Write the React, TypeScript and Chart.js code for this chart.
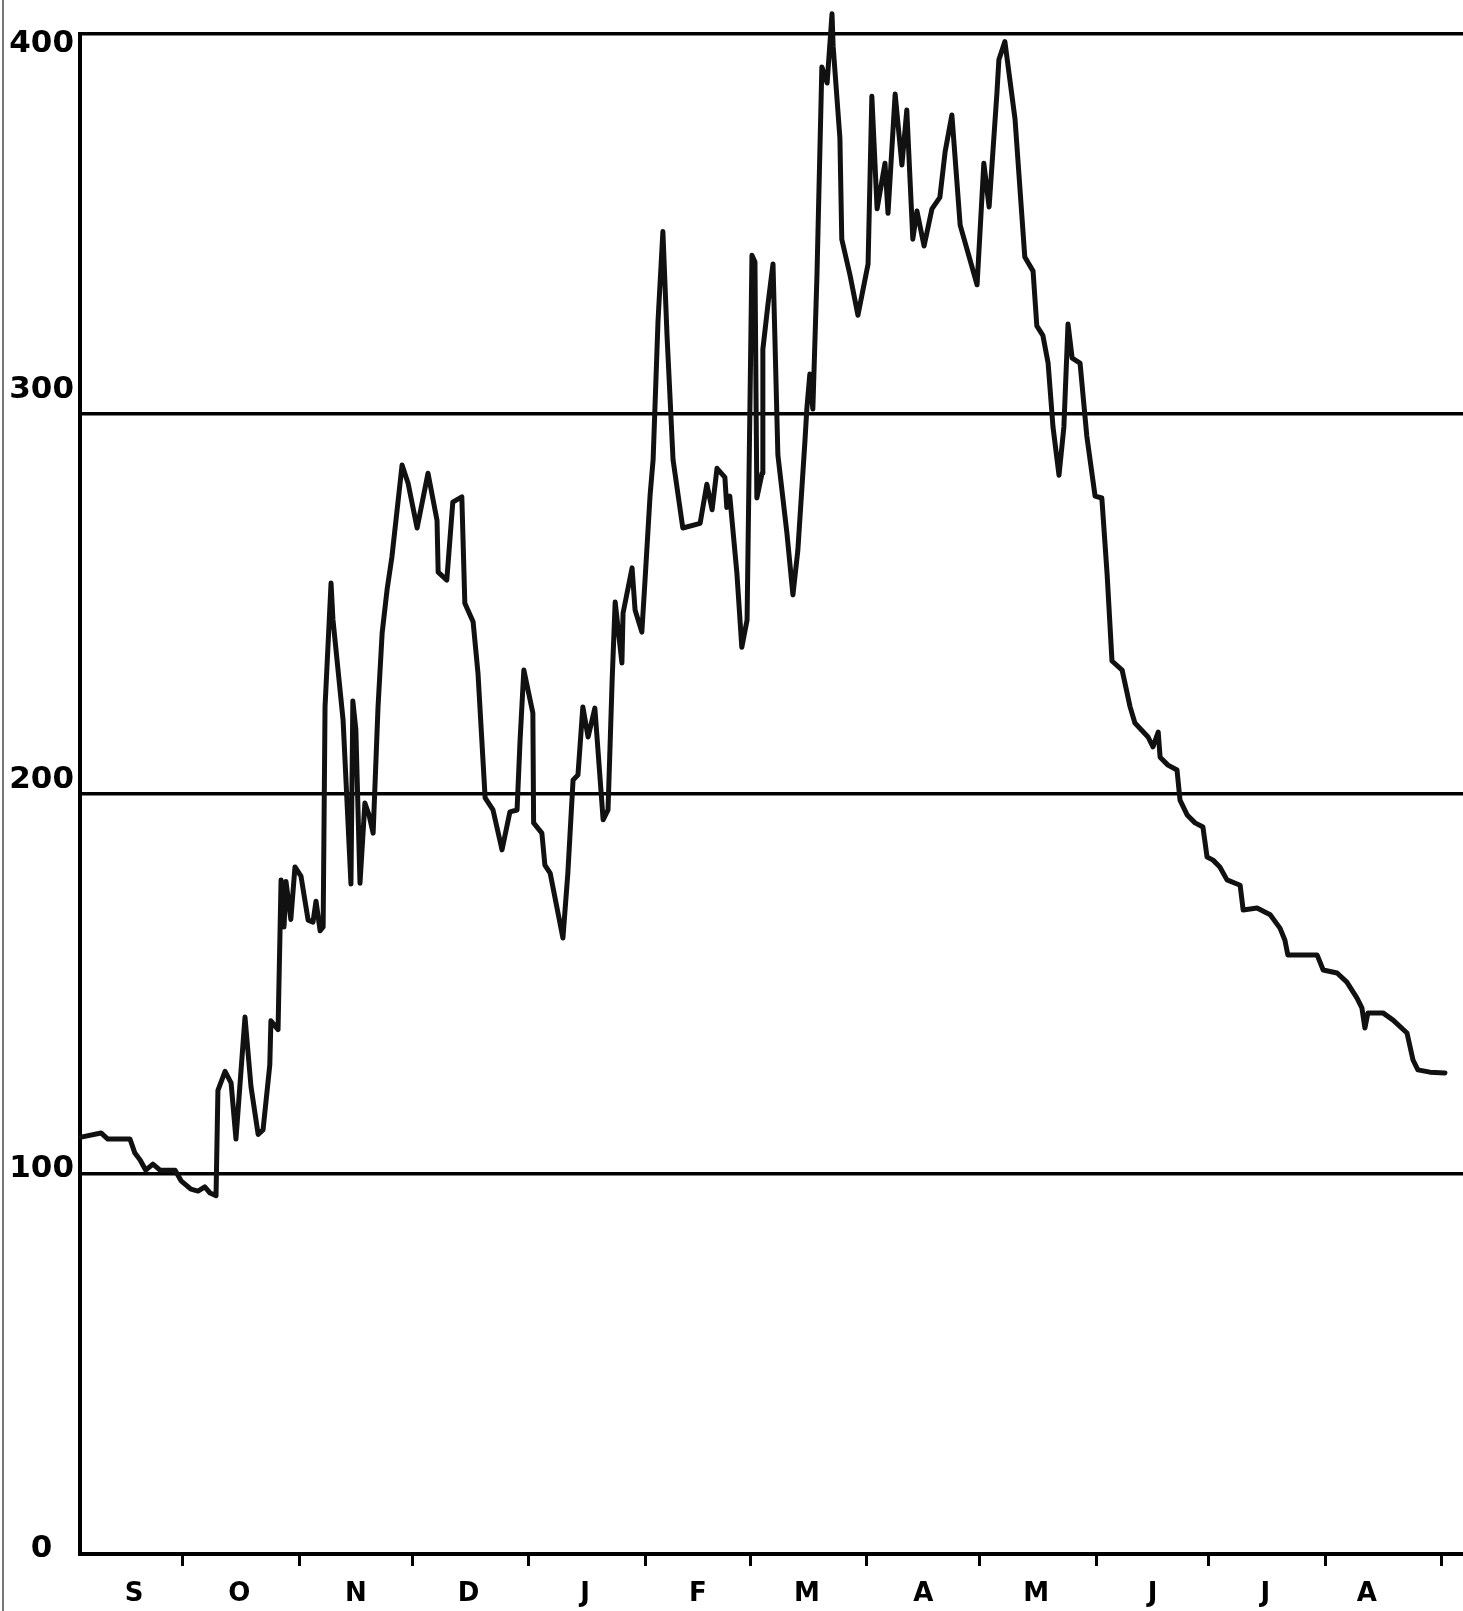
import React, { useEffect, useRef } from 'react';
import { Chart, registerables } from 'chart.js';

Chart.register(...registerables);

// x: day of the season (0 = 1 September), y: index value
const days = [
  2.9, 8.2, 10.0, 15.9, 17.2, 18.6, 20.1, 22.0, 23.9, 27.9,
  29.5, 32.1, 34.0, 35.8, 37.2, 38.8, 39.3, 41.2, 42.8, 44.1,
  46.5, 48.1, 50.0, 51.3, 53.1, 53.4, 55.3, 56.1, 56.9, 57.4,
  58.7, 59.8, 61.4, 63.3, 64.6, 65.4, 66.5, 67.3, 67.8, 69.4,
  69.9, 72.6, 74.7, 75.2, 76.0, 77.1, 78.4, 79.5, 80.6, 81.9,
  83.0, 84.3, 85.6, 88.3, 89.9, 92.3, 95.2, 97.6, 97.9, 100.2,
  101.8, 104.2, 105.0, 107.2, 108.5, 110.4, 112.5, 114.9, 117.0, 118.9,
  119.7, 120.7, 123.1, 123.3, 125.5, 126.3, 127.7, 131.1, 132.4, 133.8,
  135.1, 136.4, 137.8, 139.6, 141.8, 143.1, 144.2, 145.0, 146.8, 147.1,
  149.5, 150.3, 152.1, 152.9, 154.3, 155.1, 156.4, 157.7, 158.8, 160.4,
  163.0, 167.6, 169.4, 170.8, 172.1, 174.2, 174.7, 175.5, 177.4, 178.7,
  180.1, 181.4, 182.2, 182.7, 184.1, 184.3, 185.7, 187.0, 188.3, 190.7,
  192.3, 193.6, 195.5, 196.0, 196.8, 197.6, 198.7, 200.0, 201.4, 202.7,
  203.0, 204.8, 205.3, 207.5, 209.6, 212.3, 213.3, 214.7, 216.8, 217.6,
  219.5, 221.3, 222.6, 224.2, 225.3, 227.2, 229.3, 231.4, 232.8, 234.6,
  236.8, 241.3, 243.1, 244.5, 246.6, 247.1, 248.7, 251.4, 254.0, 256.2,
  257.2, 258.8, 260.2, 261.5, 263.1, 264.4, 265.5, 266.6, 268.7, 270.5,
  272.7, 274.5, 275.9, 277.2, 279.9, 282.0, 283.3, 286.8, 288.1, 289.5,
  290.0, 292.1, 294.5, 295.3, 297.2, 299.3, 301.4, 302.5, 304.1, 305.9,
  307.8, 311.3, 312.1, 315.8, 319.3, 321.9, 323.2, 324.0, 331.8, 333.4,
  337.1, 339.7, 342.4, 343.7, 344.5, 345.3, 349.3, 352.0, 355.7, 357.3,
  358.6, 361.8, 365.8,
];

const values = [
  109.7, 110.8, 109.2, 109.2, 105.5, 103.7, 101.0, 102.6, 101.0, 101.0,
  98.2, 96.0, 95.5, 96.6, 95.0, 94.3, 122.0, 127.0, 124.0, 109.2,
  141.3, 123.0, 110.4, 111.6, 128.7, 140.3, 138.0, 177.4, 165.0, 177.0,
  167.0, 180.8, 178.4, 166.8, 166.3, 171.8, 164.0, 165.0, 222.9, 255.5,
  246.0, 219.5, 176.3, 224.5, 217.0, 176.5, 197.6, 194.5, 189.7, 222.9,
  242.4, 253.7, 262.4, 286.6, 281.8, 270.0, 284.4, 272.0, 258.4, 256.3,
  276.8, 278.2, 250.2, 245.3, 231.8, 199.0, 195.8, 185.3, 195.3, 195.8,
  214.2, 232.6, 221.3, 192.4, 189.7, 181.3, 179.2, 162.1, 179.0, 203.7,
  205.0, 222.9, 215.0, 222.6, 193.2, 195.8, 230.0, 250.5, 234.5, 247.6,
  259.5, 248.4, 242.6, 255.5, 278.7, 288.0, 324.4, 348.0, 320.7, 288.0,
  270.0, 271.2, 281.5, 274.8, 285.7, 283.3, 275.4, 278.4, 258.0, 238.6,
  245.8, 341.8, 340.0, 277.9, 284.5, 317.0, 329.2, 339.5, 289.2, 268.7,
  252.4, 264.0, 292.9, 301.3, 310.5, 301.3, 336.6, 391.3, 387.1, 405.3,
  396.8, 372.6, 346.0, 336.5, 326.0, 339.5, 383.6, 354.0, 366.0, 352.8,
  384.2, 365.5, 380.0, 346.0, 353.4, 344.2, 354.0, 357.0, 369.0, 378.7,
  349.7, 334.0, 366.0, 354.5, 384.7, 393.2, 398.0, 377.6, 341.3, 337.6,
  323.2, 320.7, 313.4, 296.6, 283.9, 296.6, 323.7, 314.7, 313.4, 294.2,
  278.4, 277.9, 257.9, 235.0, 232.6, 223.0, 218.7, 215.0, 212.4, 216.3,
  209.7, 207.6, 206.3, 198.4, 194.5, 192.4, 191.3, 183.4, 182.6, 180.8,
  177.4, 176.0, 169.5, 170.0, 168.2, 164.7, 161.6, 157.6, 157.6, 153.7,
  152.9, 150.5, 146.3, 143.7, 138.4, 142.4, 142.4, 140.5, 137.1, 130.0,
  127.4, 126.8, 126.6,
];

const monthLabels = ['S', 'O', 'N', 'D', 'J', 'F', 'M', 'A', 'M', 'J', 'J', 'A'];
const monthLabelDays = [17, 45, 76, 106, 137, 167, 196, 227, 257, 288, 318, 345];
const monthStartDays = [30, 61, 91, 122, 153, 181, 212, 242, 273, 303, 334, 365];
const yTicks = [0, 100, 200, 300, 400];

// styling: where each y label sits relative to its grid line (data units, as in the scan)
const Y_LABEL_SHIFT = [1.4, 1.4, 3.6, 6.4, -2.5];

const X_MIN = 2.6;
const X_MAX = 370.6;
const Y_MAX = 400;

export default function App() {
  const ref = useRef<HTMLCanvasElement>(null);

  useEffect(() => {
    const canvas = ref.current;
    if (!canvas) return;
    const labelVals = yTicks.map((v, i) => v + Y_LABEL_SHIFT[i]);
    const chart = new Chart(canvas, {
      type: 'line',
      data: {
        datasets: [
          {
            data: days.map((d, i) => ({ x: d, y: values[i] })),
            borderColor: '#111',
            borderWidth: 5,
            pointRadius: 0,
            tension: 0,
            borderJoinStyle: 'round',
            borderCapStyle: 'round',
            fill: false,
            clip: false,
          },
        ],
      },
      options: {
        animation: false,
        responsive: false,
        events: [],
        plugins: { legend: { display: false }, tooltip: { enabled: false } },
        layout: { padding: { top: 34, right: 0, left: 0, bottom: 0 } },
        scales: {
          x: {
            type: 'linear',
            min: X_MIN,
            max: X_MAX,
            afterFit: (s: any) => {
              s.height = 57;
              s.paddingLeft = 0;
              s.paddingRight = 0;
            },
            afterBuildTicks: (s: any) => {
              const vals = [...monthStartDays, ...monthLabelDays].sort((a, b) => a - b);
              s.ticks = vals.map((v) => ({ value: v }));
            },
            ticks: {
              autoSkip: false,
              maxRotation: 0,
              minRotation: 0,
              padding: 13,
              color: '#000',
              font: { family: 'DejaVu Sans', weight: 'bold', size: 26 },
              callback: (v: any) => {
                const i = monthLabelDays.indexOf(Number(v));
                return i >= 0 ? monthLabels[i] : '';
              },
            },
            grid: {
              drawOnChartArea: false,
              drawTicks: true,
              tickLength: 12,
              tickWidth: 3,
              tickColor: (c: any) =>
                c.tick && monthStartDays.indexOf(c.tick.value) >= 0 ? '#000' : 'rgba(0,0,0,0)',
            },
            border: { display: true, color: '#000', width: 4 },
          },
          y: {
            type: 'linear',
            min: 0,
            max: Y_MAX,
            afterFit: (s: any) => {
              s.width = 80;
              s.paddingTop = 0;
              s.paddingBottom = 0;
            },
            afterBuildTicks: (s: any) => {
              const vals = [...yTicks, ...labelVals].sort((a, b) => a - b);
              s.ticks = vals.map((v) => ({ value: v }));
            },
            ticks: {
              autoSkip: false,
              color: '#000',
              padding: 6,
              crossAlign: 'center',
              font: { family: 'DejaVu Sans', weight: 'bold', size: 31 },
              callback: (v: any) => {
                const i = labelVals.indexOf(Number(v));
                return i >= 0 ? String(yTicks[i]) : '';
              },
            },
            grid: {
              color: (c: any) =>
                c.tick && yTicks.indexOf(c.tick.value) >= 0 ? '#000' : 'rgba(0,0,0,0)',
              lineWidth: 3.5,
              drawTicks: false,
            },
            border: { display: true, color: '#000', width: 4 },
          },
        },
      },
    } as any);
    return () => chart.destroy();
  }, []);

  return (
    <div style={{ position: 'absolute', left: 0, top: 0, width: 1463, height: 1611, background: '#fff' }}>
      <div style={{ position: 'absolute', left: 2, top: 0, width: 2, height: 1611, background: '#777' }} />
      <canvas ref={ref} width={1463} height={1611} style={{ position: 'absolute', left: 0, top: 0 }} />
    </div>
  );
}
